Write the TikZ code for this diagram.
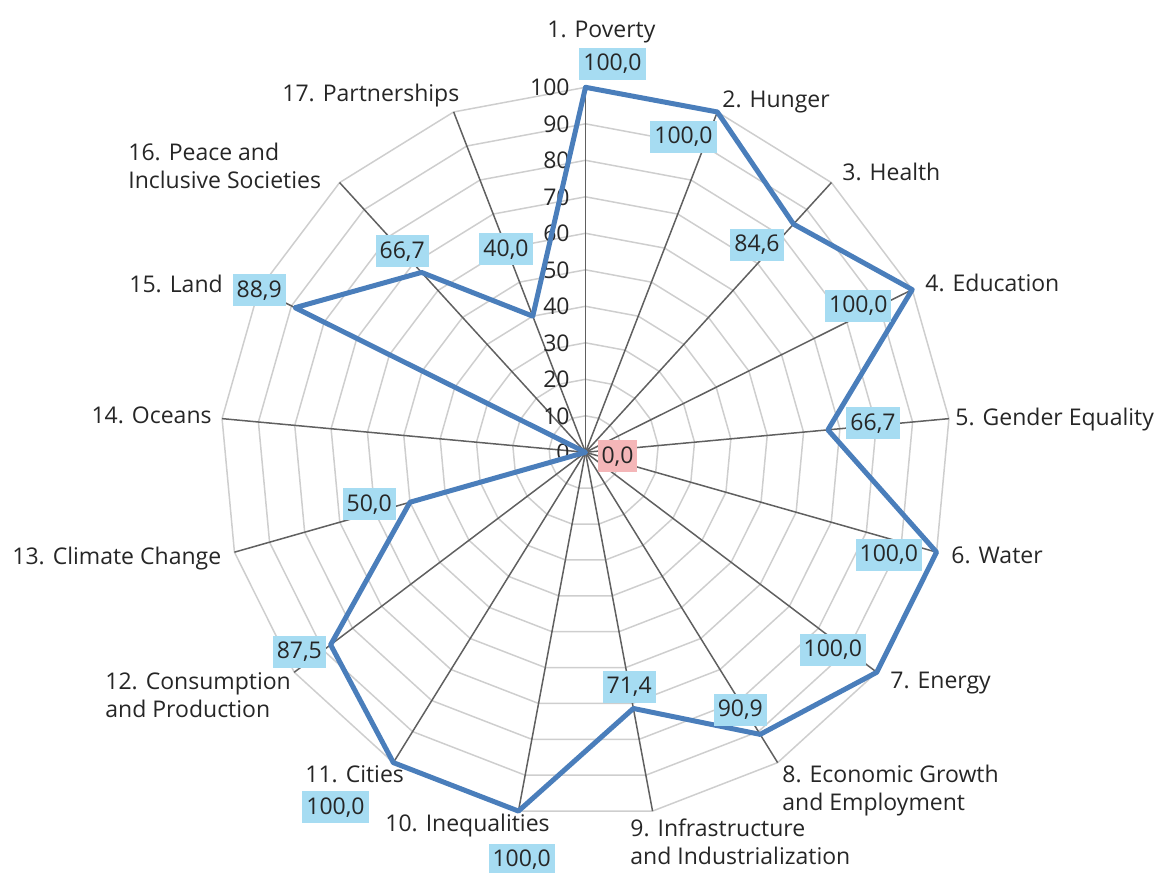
\documentclass[tikz,border=0pt]{standalone}
\usepackage{fontspec}
\setmainfont{Open Sans}
\usetikzlibrary{calc}

\definecolor{seriesblue}{RGB}{74,126,187}
\definecolor{valblue}{RGB}{166,220,242}
\definecolor{valpink}{RGB}{244,182,184}
\definecolor{webgray}{RGB}{206,206,206}
\definecolor{spokegray}{RGB}{96,96,96}
\definecolor{textgray}{RGB}{38,38,38}

\begin{document}
\begin{tikzpicture}[
    x=0.5pt, y=-0.5pt,
    every node/.style={font=\fontsize{11.5}{13.7}\selectfont, text=textgray},
    web/.style={draw=webgray, line width=0.75pt},
    spoke/.style={draw=spokegray, line width=0.75pt},
    series/.style={draw=seriesblue, line width=2.5pt, line join=round},
    tick/.style={anchor=east, inner sep=0pt},
    cat/.style={anchor=base west, inner sep=0pt, align=left},
    val/.style={fill=valblue, inner xsep=2pt, inner ysep=0pt, minimum height=16pt}
]
    \useasboundingbox (0,0) rectangle (1158,873);

    % Centre and spoke ends
    \coordinate (O) at (585.5,452.3);
    \foreach \k in {0,...,16}
        \coordinate (a\k) at ($(O)+({365*cos(90-\k*360/17)},{-365*sin(90-\k*360/17)})$);

    % Web
    \foreach \l in {1,...,10}
        \draw[web] ($(O)!\l/10!(a0)$) \foreach \k in {1,...,16}{ -- ($(O)!\l/10!(a\k)$)} -- cycle;

    % Spokes
    \foreach \k in {0,...,16}
        \draw[spoke] (O) -- (a\k);

    % Scale
    \foreach \l in {0,...,10}
        \node[tick] (tick-\l) at ($(O)+(-15.5,{-36.5*\l})$) {\the\numexpr\l*10\relax};

    % Scores
    \foreach \k/\v in {0/100,1/100,2/84.6,3/100,4/66.7,5/100,6/100,7/90.9,8/71.4,
                       9/100,10/100,11/87.5,12/50,13/0,14/88.9,15/66.7,16/40}
        \coordinate (p\k) at ($(O)!\v/100!(a\k)$);
    \draw[series] (p0) \foreach \k in {1,...,16}{ -- (p\k)} -- cycle;

    % Goals (base = last line)
    \node[cat] (cat-poverty) at (547,37) {1. Poverty};
    \node[cat] (cat-hunger) at (722,107) {2. Hunger};
    \node[cat] (cat-health) at (842,180) {3. Health};
    \node[cat] (cat-education) at (925,291) {4. Education};
    \node[cat] (cat-gender) at (955,425) {5. Gender Equality};
    \node[cat] (cat-water) at (951,563) {6. Water};
    \node[cat] (cat-energy) at (890,688) {7. Energy};
    \node[cat] (cat-growth) at (782,810) {8. Economic Growth\\and Employment};
    \node[cat] (cat-infra) at (630,864) {9. Infrastructure\\and Industrialization};
    \node[cat] (cat-inequal) at (385,831) {10. Inequalities};
    \node[cat] (cat-cities) at (305,782) {11. Cities};
    \node[cat] (cat-consumption) at (105,717) {12. Consumption\\and Production};
    \node[cat] (cat-climate) at (12,564) {13. Climate Change};
    \node[cat, anchor=base east] (cat-oceans) at (212,423) {14. Oceans};
    \node[cat] (cat-land) at (129,292) {15. Land};
    \node[cat] (cat-peace) at (128,188) {16. Peace and\\Inclusive Societies};
    \node[cat] (cat-partner) at (282,101) {17. Partnerships};

    % Value labels
    \node[val] (val-poverty) at (612.5,64) {100,0};
    \node[val] (val-hunger) at (683.5,136.7) {100,0};
    \node[val] (val-health) at (757,244.7) {84,6};
    \node[val] (val-education) at (858.3,305.5) {100,0};
    \node[val] (val-gender) at (873,423.3) {66,7};
    \node[val] (val-water) at (888.8,554.5) {100,0};
    \node[val] (val-energy) at (832.8,649.5) {100,0};
    \node[val] (val-growth) at (740.3,709.8) {90,9};
    \node[val] (val-infra) at (629.2,687.2) {71,4};
    \node[val] (val-inequal) at (521.7,860) {100,0};
    \node[val] (val-cities) at (335.5,807.2) {100,0};
    \node[val] (val-consumption) at (299.3,651.7) {87,5};
    \node[val] (val-climate) at (369.2,504.2) {50,0};
    \node[val, fill=valpink] (val-oceans) at (617.5,456.2) {0,0};
    \node[val] (val-land) at (259.2,290.3) {88,9};
    \node[val] (val-peace) at (402.2,251.3) {66,7};
    \node[val] (val-partner) at (506,249.2) {40,0};
\end{tikzpicture}
\end{document}
